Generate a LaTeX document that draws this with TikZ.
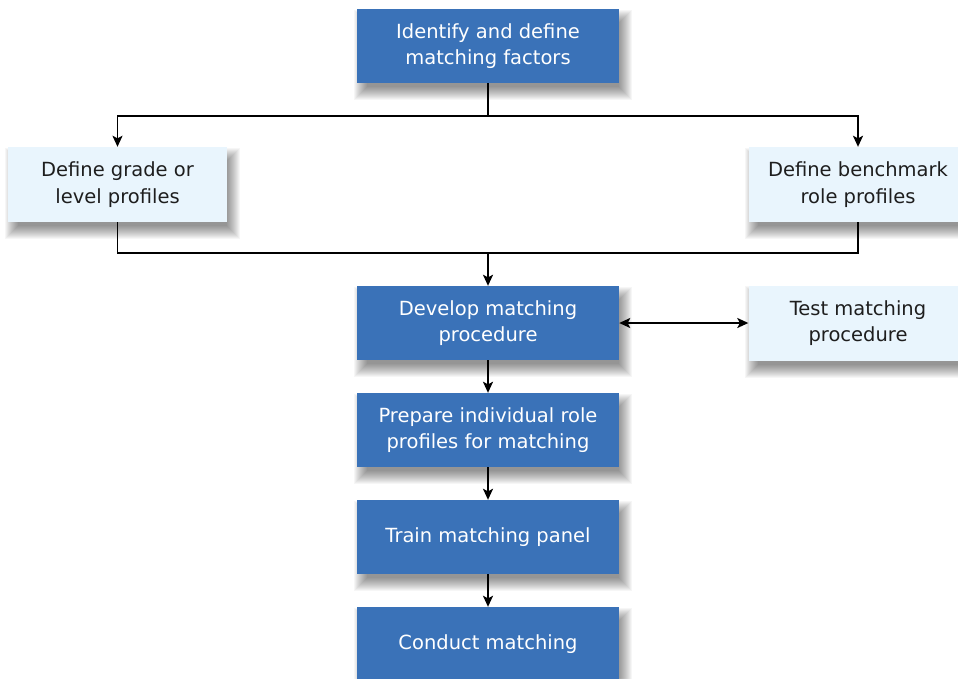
\documentclass[tikz,border=0pt]{standalone}
\usepackage{fontspec}
\setmainfont{DejaVu Sans}
\usetikzlibrary{arrows.meta,backgrounds}
\definecolor{boxblue}{RGB}{58,114,184}
\definecolor{boxlight}{RGB}{233,245,253}
\definecolor{txtdark}{RGB}{30,30,30}
\tikzset{
  base/.style={rectangle, inner sep=0pt, align=center,
    font=\fontsize{19.5}{26.5}\selectfont},
  bluebox/.style={base, fill=boxblue, text=white, minimum width=262pt, minimum height=74pt},
  lightbox/.style={base, fill=boxlight, text=txtdark, minimum width=219pt, minimum height=75pt},
  conn/.style={draw=black, line width=1.7pt},
  tip/.tip={Stealth[length=11pt,width=10pt,inset=2.5pt]},
  arr/.style={conn, -tip},
  darr/.style={conn, tip-tip},
  shadowlayer/.style={fill=black, opacity=0.035},
}
\begin{document}
\begin{tikzpicture}[x=1pt,y=-1pt]
\useasboundingbox (0,0) rectangle (958,678);
\node[bluebox] (top) at (488,46) {Identify and define\\matching factors};
\node[lightbox] (left) at (117.5,184.5) {Define grade or\\level profiles};
\node[lightbox] (right) at (858,184.5) {Define benchmark\\role profiles};
\node[bluebox] (dev) at (488,323) {Develop matching\\procedure};
\node[lightbox] (test) at (858,323) {Test matching\\procedure};
\node[bluebox] (prep) at (488,430) {Prepare individual role\\profiles for matching};
\node[bluebox] (train) at (488,537) {Train matching panel};
\node[bluebox] (cond) at (488,644) {Conduct matching};
\begin{pgfonlayer}{background}
\fill[white] (0,0) rectangle (958,678);
\foreach \n in {top,left,right,dev,test,prep,train,cond}{
  \foreach \r in {-5,-4,...,8}{
    \fill[shadowlayer] ([shift={(5-\r,9-\r)}]\n.north west) rectangle ([shift={(5+\r,9+\r)}]\n.south east);
  }
}
\end{pgfonlayer}
\coordinate (jt) at (488,116);
\coordinate (jb) at (488,253);
\draw[conn] (top.south) -- (jt);
\draw[arr] (jt) -| (left.north);
\draw[arr] (jt) -| (right.north);
\draw[conn] (left.south) |- (jb);
\draw[conn] (right.south) |- (jb);
\draw[arr] (jb) -- (dev.north);
\draw[darr] (dev.east) -- (test.west);
\draw[arr] (dev.south) -- (prep.north);
\draw[arr] (prep.south) -- (train.north);
\draw[arr] (train.south) -- (cond.north);
\end{tikzpicture}
\end{document}
